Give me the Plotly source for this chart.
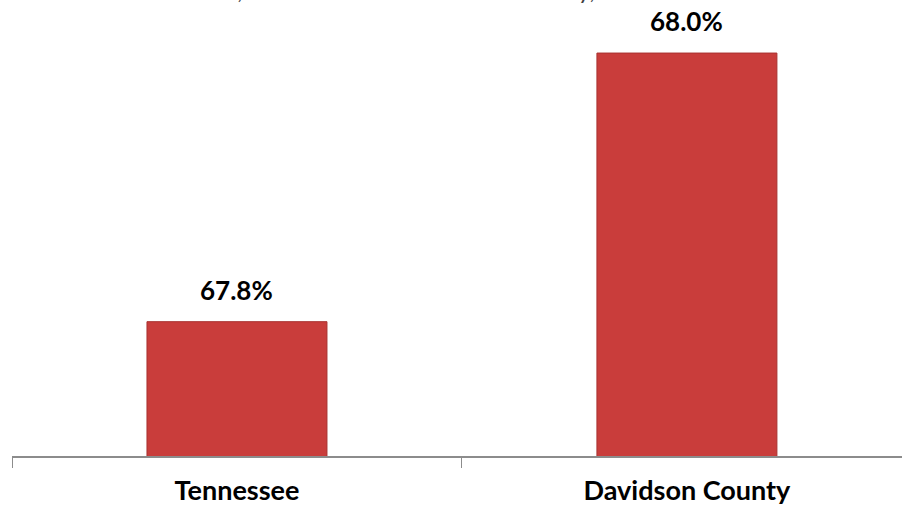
import plotly.graph_objects as go

categories = ["Tennessee", "Davidson County"]
values = [67.8, 68.0]
value_labels = ["67.8%", "68.0%"]
title_text = "Labor Force Participation Rate, Population Age 16 and<br>Over, Tennessee and Davidson County, 2010"

FONT = "Lato, 'Open Sans', sans-serif"

fig = go.Figure()
fig.add_trace(go.Bar(
    x=categories,
    y=values,
    width=0.4,
    marker=dict(color="#C93D3B", line=dict(color="#A83230", width=1)),
    hoverinfo="skip",
))

for c, v, t in zip(categories, values, value_labels):
    fig.add_annotation(
        x=c, y=v, text="<b>%s</b>" % t, showarrow=False,
        yanchor="bottom", yshift=14,
        font=dict(family=FONT, size=26, color="#000000"),
    )

fig.add_annotation(
    xref="paper", yref="paper", x=0.46, y=1, xanchor="center", yanchor="bottom",
    yshift=-6, text=title_text, showarrow=False, align="center",
    font=dict(family=FONT, size=24, color="#404040"),
)

fig.update_layout(
    width=902, height=506, autosize=False,
    margin=dict(l=12, r=0, t=0, b=50),
    paper_bgcolor="white", plot_bgcolor="white",
    showlegend=False,
)
fig.update_xaxes(
    type="category", range=[-0.5, 1.478],
    showline=True, linecolor="#8C8C8C", linewidth=2,
    ticks="outside", tickson="boundaries", ticklen=10, tickcolor="#8C8C8C", tickwidth=1,
    showgrid=False, zeroline=False,
    tickfont=dict(family=FONT, size=27, color="#000000"),
    tickprefix="<b>", ticksuffix="</b>",
    ticklabelstandoff=10,
)
fig.update_yaxes(
    range=[67.7, 68.0395], visible=False, showgrid=False, zeroline=False,
)

fig.write_html("out.html")
